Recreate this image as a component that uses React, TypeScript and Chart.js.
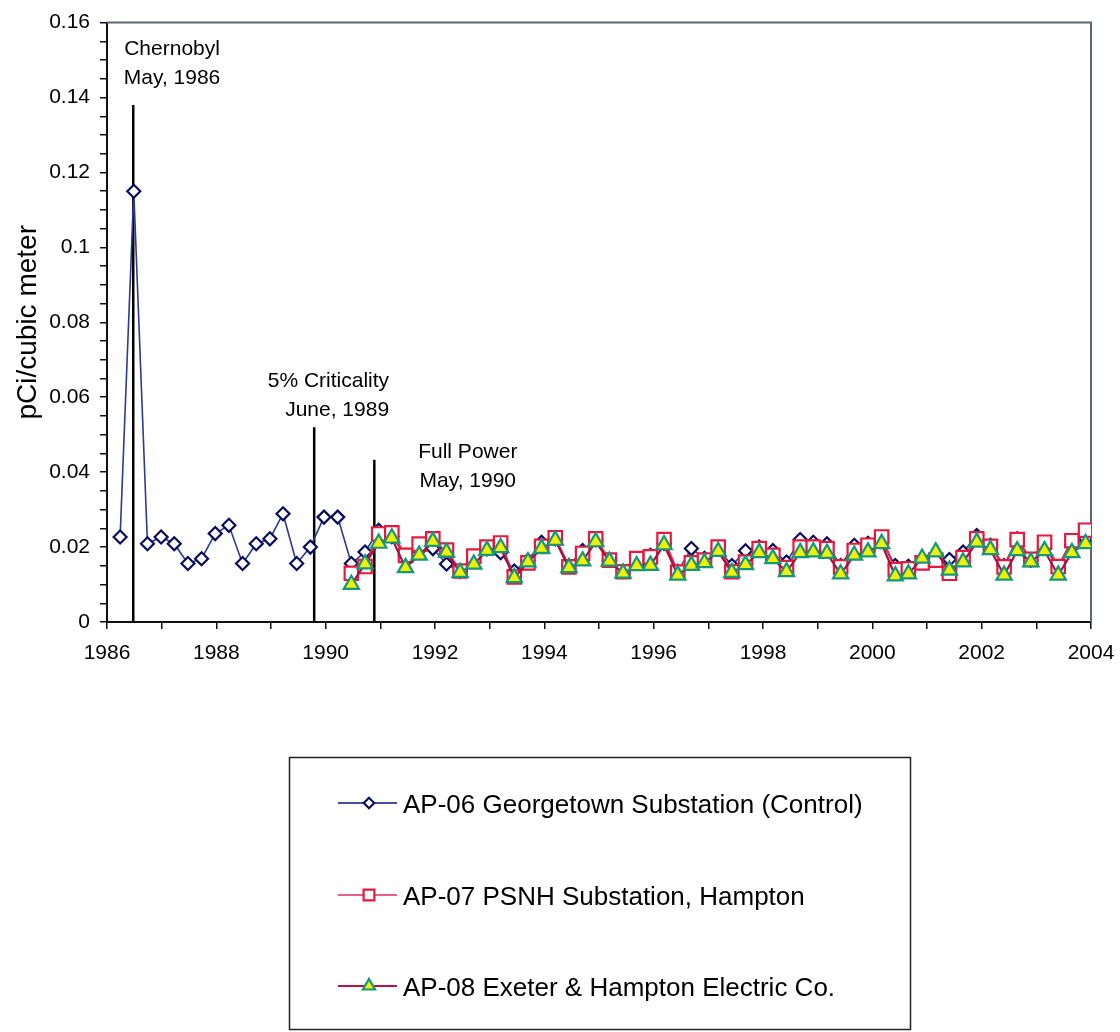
import { useEffect, useRef } from 'react';
import { Chart, registerables } from 'chart.js';

Chart.register(...registerables);

// Quarterly air particulate sampling dates (decimal years)
const sampleYears = [
  1986.24, 1986.49, 1986.74, 1986.99, 1987.23, 1987.48, 1987.73, 1987.98,
  1988.23, 1988.48, 1988.73, 1988.98, 1989.22, 1989.47, 1989.72, 1989.97,
  1990.22, 1990.47, 1990.72, 1990.97, 1991.21, 1991.46, 1991.71, 1991.96,
  1992.21, 1992.46, 1992.71, 1992.95, 1993.2, 1993.45, 1993.7, 1993.95,
  1994.2, 1994.45, 1994.7, 1994.94, 1995.19, 1995.44, 1995.69, 1995.94,
  1996.19, 1996.44, 1996.69, 1996.93, 1997.18, 1997.43, 1997.68, 1997.93,
  1998.18, 1998.43, 1998.68, 1998.92, 1999.17, 1999.42, 1999.67, 1999.92,
  2000.17, 2000.42, 2000.66, 2000.91, 2001.16, 2001.41, 2001.66, 2001.91,
  2002.16, 2002.41, 2002.65, 2002.9, 2003.15, 2003.4, 2003.65, 2003.9,
];

// AP-06 covers every sample date
const ap06 = [
  0.0227, 0.115, 0.0209, 0.0227, 0.0209, 0.0156, 0.0169, 0.0236,
  0.0258, 0.0156, 0.0209, 0.0222, 0.0289, 0.0156, 0.02, 0.028,
  0.028, 0.0156, 0.0187, 0.0245, 0.0228, 0.0178, 0.0192, 0.0196,
  0.0155, 0.0135, 0.0175, 0.0195, 0.0185, 0.0136, 0.0165, 0.0213,
  0.0222, 0.015, 0.0191, 0.022, 0.0165, 0.0135, 0.0169, 0.0178,
  0.021, 0.0135, 0.0196, 0.017, 0.0196, 0.0151, 0.019, 0.02,
  0.0191, 0.016, 0.022, 0.0213, 0.0209, 0.0151, 0.0205, 0.021,
  0.0215, 0.0151, 0.0149, 0.016, 0.018, 0.0167, 0.0187, 0.0231,
  0.0205, 0.0151, 0.0222, 0.0165, 0.02, 0.0147, 0.0205, 0.0222,
];

// AP-07 and AP-08 start at the 18th sample date
const nearSiteStart = 17;

const ap07 = [
  0.013, 0.0148, 0.0235, 0.0238, 0.0178, 0.0208, 0.0222, 0.0192,
  0.0136, 0.0176, 0.02, 0.0211, 0.012, 0.0158, 0.0202, 0.0225,
  0.0147, 0.0183, 0.0222, 0.0165, 0.0134, 0.0169, 0.0174, 0.022,
  0.0133, 0.0158, 0.0165, 0.02, 0.0134, 0.016, 0.0196, 0.0178,
  0.0145, 0.02, 0.02, 0.0196, 0.0147, 0.0191, 0.0205, 0.0227,
  0.014, 0.0142, 0.0158, 0.0165, 0.013, 0.0172, 0.0222, 0.0202,
  0.0147, 0.022, 0.0167, 0.0213, 0.0148, 0.0217, 0.0245,
];

const ap08 = [
  0.01, 0.0155, 0.021, 0.0224, 0.0145, 0.0178, 0.0215, 0.0186,
  0.0132, 0.0154, 0.0191, 0.0198, 0.0118, 0.016, 0.0196, 0.0218,
  0.0145, 0.0163, 0.0214, 0.0162, 0.013, 0.015, 0.0151, 0.0206,
  0.0125, 0.0151, 0.0158, 0.0188, 0.0132, 0.0153, 0.0185, 0.0169,
  0.0134, 0.0185, 0.0187, 0.0183, 0.0128, 0.0178, 0.0187, 0.0209,
  0.0123, 0.0128, 0.017, 0.0187, 0.0138, 0.016, 0.0213, 0.0193,
  0.0125, 0.019, 0.016, 0.019, 0.0125, 0.0185, 0.0209,
];

const seriesLabels = [
  'AP-06 Georgetown Substation (Control)',
  'AP-07 PSNH Substation, Hampton',
  'AP-08 Exeter & Hampton Electric Co.',
];

// Reference events: date, top of the marker line (pCi/m3) and caption
const eventYears = [1986.48, 1989.79, 1990.89];
const eventTops = [0.138, 0.052, 0.0433];
const eventCaptions = [
  ['Chernobyl', 'May, 1986'],
  ['5% Criticality', 'June, 1989'],
  ['Full Power', 'May, 1990'],
];

// Caption placement in axis units (first line baseline)
const captionAnchors = [
  { x: 1987.19, y: 0.1513, align: 'center' },
  { x: 1991.16, y: 0.0627, align: 'right' },
  { x: 1992.6, y: 0.0439, align: 'center' },
];

const xTickMin = 1986;
const xTickMax = 2004;
const yMax = 0.16;

const FONT = '"Liberation Sans", Arial, Helvetica, sans-serif';

function toPoints(values: number[], offset: number) {
  return values.map((v, i) => ({ x: sampleYears[i + offset], y: v }));
}

function drawMarker(
  ctx: CanvasRenderingContext2D,
  style: string,
  x: number,
  y: number,
  r: number,
  fill: string,
  stroke: string,
  lw: number
) {
  ctx.beginPath();
  if (style === 'rectRot') {
    ctx.moveTo(x - r, y);
    ctx.lineTo(x, y - r);
    ctx.lineTo(x + r, y);
    ctx.lineTo(x, y + r);
  } else if (style === 'rect') {
    const h = r * Math.SQRT1_2;
    ctx.rect(x - h, y - h, 2 * h, 2 * h);
  } else {
    ctx.moveTo(x, y - r);
    ctx.lineTo(x + r * 0.866, y + r / 2);
    ctx.lineTo(x - r * 0.866, y + r / 2);
  }
  ctx.closePath();
  ctx.fillStyle = fill;
  ctx.fill();
  ctx.strokeStyle = stroke;
  ctx.lineWidth = lw;
  ctx.stroke();
}

const overlayPlugin = {
  id: 'overlay',
  beforeDatasetsDraw(chart: any) {
    const { ctx, chartArea: a, scales } = chart;
    ctx.save();
    // plot frame (top and right edges)
    ctx.strokeStyle = '#5b6675';
    ctx.lineWidth = 2;
    ctx.beginPath();
    ctx.moveTo(a.left, a.top);
    ctx.lineTo(a.right, a.top);
    ctx.lineTo(a.right, a.bottom);
    ctx.stroke();
    // event marker lines
    ctx.strokeStyle = '#000';
    ctx.lineWidth = 2.5;
    eventYears.forEach((yr, i) => {
      const x = scales.x.getPixelForValue(yr);
      ctx.beginPath();
      ctx.moveTo(x, scales.y.getPixelForValue(0));
      ctx.lineTo(x, scales.y.getPixelForValue(eventTops[i]));
      ctx.stroke();
    });
    ctx.restore();
  },
  afterDraw(chart: any) {
    const { ctx, scales } = chart;
    ctx.save();
    // event captions
    ctx.fillStyle = '#000';
    ctx.font = `21px ${FONT}`;
    ctx.textBaseline = 'alphabetic';
    eventCaptions.forEach((lines, i) => {
      const anchor = captionAnchors[i];
      const x = scales.x.getPixelForValue(anchor.x);
      const y = scales.y.getPixelForValue(anchor.y);
      ctx.textAlign = anchor.align as CanvasTextAlign;
      lines.forEach((t, j) => ctx.fillText(t, x, y + j * 29));
    });

    // legend box
    const box = { left: 289.5, top: 757.5, width: 621, height: 272 };
    ctx.strokeStyle = '#222';
    ctx.lineWidth = 1.5;
    ctx.strokeRect(box.left, box.top, box.width, box.height);
    const rowY = [803, 895, 986];
    ctx.font = `26px ${FONT}`;
    ctx.textAlign = 'left';
    chart.data.datasets.forEach((ds: any, i: number) => {
      const y = rowY[i];
      ctx.strokeStyle = ds.legendLineColor || ds.borderColor;
      ctx.lineWidth = 2;
      ctx.beginPath();
      ctx.moveTo(338, y);
      ctx.lineTo(397, y);
      ctx.stroke();
      drawMarker(
        ctx,
        ds.pointStyle,
        369,
        y,
        ds.pointRadius * 0.8,
        ds.pointBackgroundColor,
        ds.pointBorderColor,
        ds.pointBorderWidth
      );
      ctx.fillStyle = '#000';
      ctx.fillText(ds.label, 403, y + 9.5);
    });
    ctx.restore();
  },
};

export default function App() {
  const canvasRef = useRef<HTMLCanvasElement | null>(null);

  useEffect(() => {
    const canvas = canvasRef.current;
    if (!canvas) return;
    Chart.defaults.font.family = FONT;
    Chart.defaults.color = '#000';

    const chart = new Chart(canvas, {
      type: 'line',
      data: {
        datasets: [
          {
            label: seriesLabels[0],
            data: toPoints(ap06, 0),
            borderColor: '#2d3a8e',
            legendLineColor: '#3f4fa6',
            borderWidth: 1.6,
            pointStyle: 'rectRot',
            pointRadius: 6.5,
            pointBorderWidth: 2.2,
            pointBorderColor: '#0b0b5e',
            pointBackgroundColor: '#ffffff',
            tension: 0,
            order: 2,
          },
          {
            label: seriesLabels[1],
            data: toPoints(ap07, nearSiteStart),
            borderColor: '#e22a4c',
            legendLineColor: '#e46282',
            borderWidth: 2.2,
            pointStyle: 'rect',
            pointRadius: 9.5,
            pointBorderWidth: 2.2,
            pointBorderColor: '#e8183c',
            pointBackgroundColor: '#ffffff',
            tension: 0,
            order: 1,
          },
          {
            label: seriesLabels[2],
            data: toPoints(ap08, nearSiteStart),
            borderColor: '#9e1442',
            legendLineColor: '#b5154a',
            borderWidth: 2.2,
            pointStyle: 'triangle',
            pointRadius: 8.8,
            pointBorderWidth: 2.2,
            pointBorderColor: '#16977c',
            pointBackgroundColor: '#f0f000',
            tension: 0,
            order: 0,
          },
        ] as any,
      },
      options: {
        responsive: false,
        animation: false,
        devicePixelRatio: 1,
        layout: { padding: { left: 0, top: 20, right: 29, bottom: 370 } },
        plugins: {
          legend: { display: false },
          tooltip: { enabled: false },
        },
        scales: {
          x: {
            type: 'linear',
            min: xTickMin,
            max: xTickMax,
            afterFit: (scale: any) => {
              scale.height = 40;
              scale.paddingLeft = 0;
              scale.paddingRight = 0;
            },
            ticks: {
              stepSize: 1,
              autoSkip: false,
              maxRotation: 0,
              padding: 12,
              color: '#000',
              font: { size: 21 },
              callback: (v: any) => (Number(v) % 2 === 0 ? String(v) : ''),
            },
            grid: {
              drawOnChartArea: false,
              drawTicks: true,
              tickLength: 7,
              color: '#111',
              lineWidth: 1.5,
            },
            border: { display: true, color: '#111', width: 2 },
          },
          y: {
            type: 'linear',
            min: 0,
            max: yMax,
            afterFit: (scale: any) => {
              scale.width = 107;
            },
            title: {
              display: true,
              text: 'pCi/cubic meter',
              color: '#000',
              font: { size: 28 },
              padding: { top: 11, bottom: 0 },
            },
            ticks: {
              stepSize: 0.005,
              autoSkip: false,
              padding: 10,
              color: '#000',
              font: { size: 21 },
              callback: (v: any) => {
                const r = Math.round(Number(v) * 1000);
                return r % 20 === 0 ? String(r / 1000) : '';
              },
            },
            grid: {
              drawOnChartArea: false,
              drawTicks: true,
              tickLength: 7,
              color: '#111',
              lineWidth: 1.5,
            },
            border: { display: true, color: '#111', width: 2 },
          },
        },
      } as any,
      plugins: [overlayPlugin],
    });

    return () => chart.destroy();
  }, []);

  return (
    <div
      style={{
        position: 'fixed',
        left: 0,
        top: 0,
        width: 1120,
        height: 1032,
        background: '#ffffff',
      }}
    >
      <canvas ref={canvasRef} width={1120} height={1032} />
    </div>
  );
}
